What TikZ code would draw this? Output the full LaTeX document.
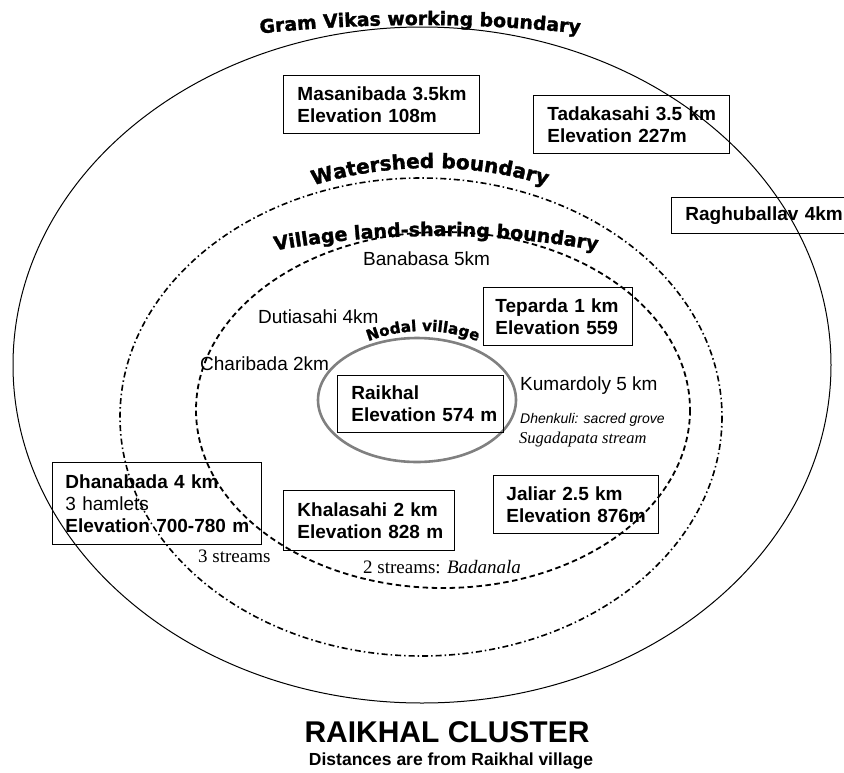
\documentclass[tikz,border=0pt]{standalone}
\usepackage{fontspec}
\setmainfont{Liberation Sans}
\newfontfamily\serifface{Liberation Serif}
\newfontfamily\archface{DejaVu Sans}[FakeBold=1.5]
\usetikzlibrary{decorations.text}

% heavy arched lettering for the boundary names
\newcommand\archtext[1]{\archface\bfseries\fontsize{#1}{#1}\selectfont}
% one unbreakable line inside a box
\newcommand\oneline[1]{\mbox{#1}}

\begin{document}
\begin{tikzpicture}[x=1pt,y=-1pt,
  outerline/.style={draw=black, line width=1pt},
  shedline/.style={draw=black, line width=1.6pt, dash pattern=on 6pt off 3pt on 1.5pt off 3pt},
  shareline/.style={draw=black, line width=1.8pt, dash pattern=on 5.5pt off 3.5pt},
  nodalline/.style={draw=black!50, line width=2.6pt},
  placebox/.style={draw, line width=0.9pt, inner xsep=14pt, inner ysep=0pt, align=left,
    anchor=north west, font=\bfseries\fontsize{19}{22}\selectfont},
  placelabel/.style={anchor=base west, inner sep=0pt, font=\fontsize{19}{22}\selectfont},
  streamlabel/.style={anchor=base west, inner sep=0pt, font=\serifface\fontsize{19}{21}\selectfont},
  arch/.style={decorate, decoration={text along path, text align=center, text={#1}}}
]
\useasboundingbox (0,0) rectangle (844,772);
\clip (0,0) rectangle (844,772);

% boundaries
\draw[outerline]  (422,365) ellipse [x radius=409, y radius=338];
\draw[shedline]   (421,417) ellipse [x radius=301, y radius=239];
\draw[shareline]  (443,410) ellipse [x radius=247, y radius=178];
\draw[nodalline]  (417,400) ellipse [x radius=99, y radius=62];

% boundary names, arched
\path[arch={|\archtext{18.8}|Gram Vikas working boundary}]
  (420,1525) ++(254:1500) arc[start angle=254, end angle=286, radius=1500];
\path[arch={|\archtext{20}|Watershed boundary}]
  (430,568) ++(240:400) arc[start angle=240, end angle=300, radius=400];
\path[arch={|\archtext{19}|Village land-sharing boundary}]
  (436,1136) ++(250:900) arc[start angle=250, end angle=290, radius=900];
\path[arch={|\archtext{15.2}|Nodal village}]
  (423,481) ++(225:150) arc[start angle=225, end angle=315, radius=150];

% villages
\node[placebox, text width=168pt, minimum height=58pt] (masani) at (283,75)
  {\oneline{Masanibada 3.5km}\\\oneline{Elevation 108m}};
\node[placebox, text width=168pt, minimum height=58pt] (tadak) at (533,95)
  {\oneline{Tadakasahi 3.5 km}\\\oneline{Elevation 227m}};
\node[placebox, text width=200pt, minimum height=36pt] (ragh) at (671,197)
  {\oneline{Raghuballav 4km}};
\node[placebox, inner xsep=12pt, text width=125pt, minimum height=58pt] (tepar) at (483,287)
  {\oneline{Teparda 1 km}\\\oneline{Elevation 559}};
\node[placebox, text width=138pt, minimum height=57pt] (raikhal) at (337,375)
  {Raikhal\\\oneline{Elevation 574 m}};
\node[placebox, inner xsep=13pt, text width=183pt, minimum height=82pt] (dhana) at (52,462)
  {\oneline{Dhanabada 4 km}\\{\mdseries\oneline{3 hamlets}}\\\oneline{Elevation 700-780 m}};
\node[placebox, text width=143pt, minimum height=60pt] (khala) at (283,490)
  {\oneline{Khalasahi 2 km}\\\oneline{Elevation 828 m}};
\node[placebox, inner xsep=13pt, text width=139pt, minimum height=58pt] (jaliar) at (493,475)
  {\oneline{Jaliar 2.5 km}\\\oneline{Elevation 876m}};

% loose labels
\node[placelabel] (banabasa) at (363,265) {Banabasa 5km};
\node[placelabel] (dutia) at (258,323) {Dutiasahi 4km};
\node[placelabel] (chari) at (200,370) {Charibada 2km};
\node[placelabel] (kumar) at (520,390) {Kumardoly 5 km};
\node[placelabel, font=\itshape\fontsize{14}{16}\selectfont] (dhenk) at (520,423)
  {Dhenkuli: sacred grove};
\node[placelabel, font=\serifface\itshape\fontsize{16.5}{18}\selectfont] (suga) at (519,443)
  {Sugadapata stream};
\node[streamlabel] (threestr) at (198,562) {3 streams};
\node[streamlabel] (twostr) at (363,573) {2 streams: \textit{Badanala}};

% title
\node[anchor=base, inner sep=0pt, font=\bfseries\fontsize{30}{30}\selectfont] (title) at (447,742)
  {RAIKHAL CLUSTER};
\node[anchor=base, inner sep=0pt, font=\bfseries\fontsize{17.5}{18}\selectfont] (subtitle) at (451,765)
  {Distances are from Raikhal village};
\end{tikzpicture}
\end{document}
